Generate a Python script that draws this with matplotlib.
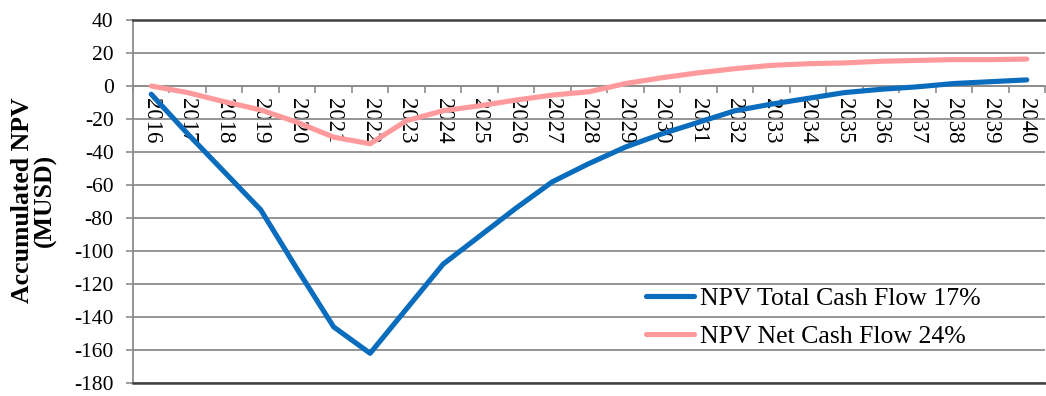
import matplotlib
matplotlib.use("Agg")
import matplotlib.pyplot as plt
import numpy as np

plt.rcParams['font.family'] = ['Liberation Serif', 'DejaVu Serif']

years = [str(y) for y in range(2016, 2041)]
npv_total = [-5, -29, -52, -75, -111, -146, -162, -135, -108, -91, -74,
             -58, -47, -37, -29, -22, -15, -11, -7.5, -4, -2, -0.5, 1.5, 2.6, 3.7]
npv_net = [0, -4, -9.5, -14.5, -22, -31, -35, -21, -15, -12, -8.5,
           -5.5, -3.5, 1.5, 5, 8, 10.5, 12.5, 13.5, 14, 15, 15.5, 16, 16, 16.3]
yticks = list(range(-180, 41, 20))
label_total = "NPV Total Cash Flow 17%"
label_net = "NPV Net Cash Flow 24%"

fig = plt.figure(figsize=(10.46, 3.96), dpi=100)
ax = fig.add_axes([133 / 1046, 1 - 383 / 396, 912 / 1046, 363 / 396])

x = np.arange(len(years))
ax.plot(x, npv_total, color='#0A6CBC', lw=3.7, solid_capstyle='round',
        solid_joinstyle='round', label=label_total, zorder=4)
ax.plot(x, npv_net, color='#FF9A9C', lw=3.7, solid_capstyle='round',
        solid_joinstyle='round', label=label_net, zorder=3)

ax.set_xlim(-0.5, len(years) - 0.5)
ax.set_ylim(-180, 40)

# horizontal gridlines
ax.set_yticks(yticks)
ax.set_yticklabels([str(v) for v in yticks], fontsize=15.5)
ax.yaxis.grid(True, color='#8C8C8C', lw=1.3)
ax.set_axisbelow(True)
ax.tick_params(axis='y', direction='out', length=5, width=1.2,
               color='#8C8C8C', pad=9)

# category axis crossing at zero
ax.spines['bottom'].set_position(('data', 0))
ax.spines['bottom'].set_color('#8C8C8C')
ax.spines['bottom'].set_linewidth(1.3)
ax.set_xticks(x)
ax.set_xticklabels(years, rotation=-90, fontsize=16.5, va='top', ha='center')
ax.set_xticks(np.arange(len(years) + 1) - 0.5, minor=True)
ax.tick_params(axis='x', which='major', length=0, pad=9)
ax.tick_params(axis='x', which='minor', direction='out', length=5,
               width=1.2, color='#8C8C8C')

ax.spines['left'].set_color('#8C8C8C')
ax.spines['left'].set_linewidth(1.3)
ax.spines['top'].set_color('#404040')
ax.spines['top'].set_linewidth(1.8)
ax.spines['right'].set_visible(False)
ax.axhline(-180, color='#404040', lw=1.8, zorder=5, clip_on=False)

fig.text(34 / 1046, (1 - 200 / 396), "Accumulated NPV\n(MUSD)", rotation=90,
         ha='center', va='center', fontsize=18.5, fontweight='bold',
         linespacing=0.95)

leg = ax.legend(loc='center left', bbox_to_anchor=(0.562, 0.18),
                frameon=False, fontsize=18.5, handlelength=1.9,
                handletextpad=0.2, labelspacing=0.6, borderpad=0,
                borderaxespad=0)

fig.savefig("out.png", dpi=100)
